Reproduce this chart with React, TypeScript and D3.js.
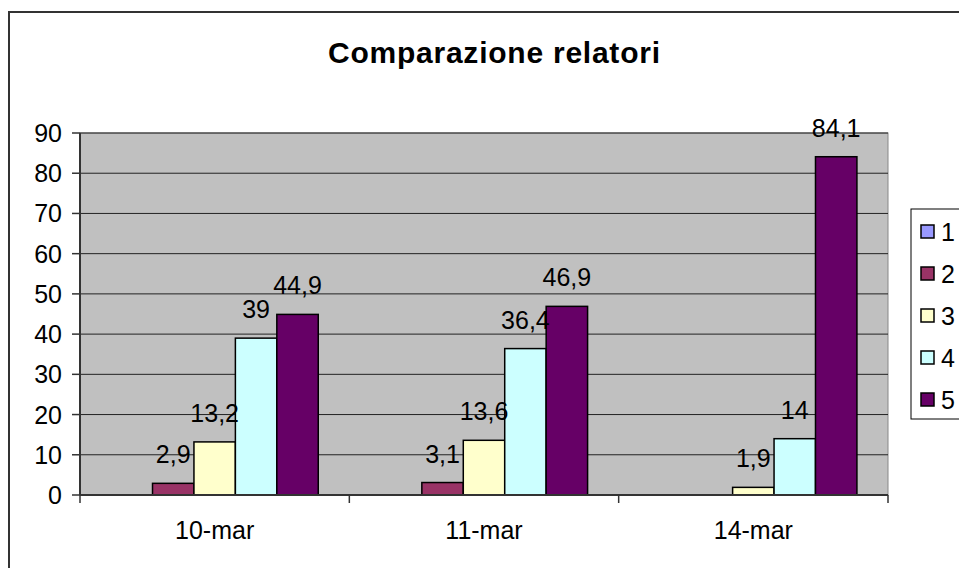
import React from "react";
import * as d3 from "d3";

const title = "Comparazione relatori";
const categories = ["10-mar", "11-mar", "14-mar"];
const seriesNames = ["1", "2", "3", "4", "5"];
const series1: (number | null)[] = [null, null, null];
const series2: (number | null)[] = [2.9, 3.1, null];
const series3: (number | null)[] = [13.2, 13.6, 1.9];
const series4: (number | null)[] = [39, 36.4, 14];
const series5: (number | null)[] = [44.9, 46.9, 84.1];
const yTicks = [0, 10, 20, 30, 40, 50, 60, 70, 80, 90];
const colors = ["#9999FF", "#993366", "#FFFFCC", "#CCFFFF", "#660066"];

const allSeries = [series1, series2, series3, series4, series5];

const W = 959;
const H = 568;
const plot = { left: 80, right: 888, top: 133, bottom: 495 };
const FONT = "'Liberation Sans', Arial, sans-serif";
const FS = 25;

export default function App() {
  const x = d3.scaleBand<string>().domain(categories).range([plot.left, plot.right]).paddingInner(0).paddingOuter(0);
  const xs = d3.scaleBand<string>().domain(seriesNames).range([0, x.bandwidth()]).paddingInner(0).paddingOuter(0.75);
  const y = d3.scaleLinear().domain([0, 90]).range([plot.bottom, plot.top]);
  const fmt = (v: number) => String(v).replace(".", ",");

  const bars: React.ReactNode[] = [];
  const labels: React.ReactNode[] = [];
  allSeries.forEach((vals, si) => {
    vals.forEach((v, ci) => {
      if (v == null) return;
      const bx = (x(categories[ci]) as number) + (xs(seriesNames[si]) as number);
      const bw = xs.bandwidth();
      bars.push(
        <rect key={`b${si}-${ci}`} x={bx} y={y(v)} width={bw} height={y(0) - y(v)} fill={colors[si]} stroke="#000" strokeWidth={1.5} />
      );
      labels.push(
        <text key={`l${si}-${ci}`} x={bx + bw / 2} y={y(v) - 20} textAnchor="middle" fontSize={FS} fontFamily={FONT} fill="#000">
          {fmt(v)}
        </text>
      );
    });
  });

  const catTicks = [...categories.map((c) => x(c) as number), plot.right];

  return (
    <svg width={W} height={H} style={{ position: "absolute", left: 0, top: 0, background: "#fff" }}>
      <rect x={0} y={0} width={W} height={H} fill="#fff" />
      <rect x={9} y={12} width={1200} height={1200} fill="#fff" stroke="#333" strokeWidth={2} />
      <text x={494} y={63} textAnchor="middle" fontSize={30} fontWeight="bold" fontFamily={FONT} textLength={332} lengthAdjust="spacing">
        {title}
      </text>
      <rect x={plot.left} y={plot.top} width={plot.right - plot.left} height={plot.bottom - plot.top} fill="#C0C0C0" stroke="#888" strokeWidth={1} />
      {yTicks.slice(1).map((t) => (
        <line key={`g${t}`} x1={plot.left} x2={plot.right} y1={y(t)} y2={y(t)} stroke="#222" strokeWidth={1} />
      ))}
      {yTicks.map((t) => (
        <g key={`yt${t}`}>
          <line x1={plot.left - 8} x2={plot.left} y1={y(t)} y2={y(t)} stroke="#333" strokeWidth={1.5} />
          <text x={62} y={y(t)} dy="0.36em" textAnchor="end" fontSize={FS} fontFamily={FONT} fill="#000">
            {t}
          </text>
        </g>
      ))}
      {bars}
      <line x1={plot.left} x2={plot.left} y1={plot.top} y2={plot.bottom} stroke="#333" strokeWidth={2} />
      <line x1={plot.left} x2={plot.right} y1={plot.bottom} y2={plot.bottom} stroke="#333" strokeWidth={2} />
      {catTicks.map((t, i) => (
        <line key={`ct${i}`} x1={t} x2={t} y1={plot.bottom} y2={plot.bottom + 8} stroke="#333" strokeWidth={1.5} />
      ))}
      {categories.map((c) => (
        <text key={c} x={(x(c) as number) + x.bandwidth() / 2} y={539} textAnchor="middle" fontSize={FS} fontFamily={FONT} fill="#000">
          {c}
        </text>
      ))}
      {labels}
      <rect x={911} y={209} width={200} height={210} fill="#fff" stroke="#000" strokeWidth={1} />
      {seriesNames.map((s, i) => (
        <g key={`lg${s}`}>
          <rect x={921} y={225 + i * 42} width={13} height={13} fill={colors[i]} stroke="#000" strokeWidth={1.5} />
          <text x={941} y={232 + i * 42} dy="0.36em" fontSize={FS} fontFamily={FONT} fill="#000">
            {s}
          </text>
        </g>
      ))}
    </svg>
  );
}
